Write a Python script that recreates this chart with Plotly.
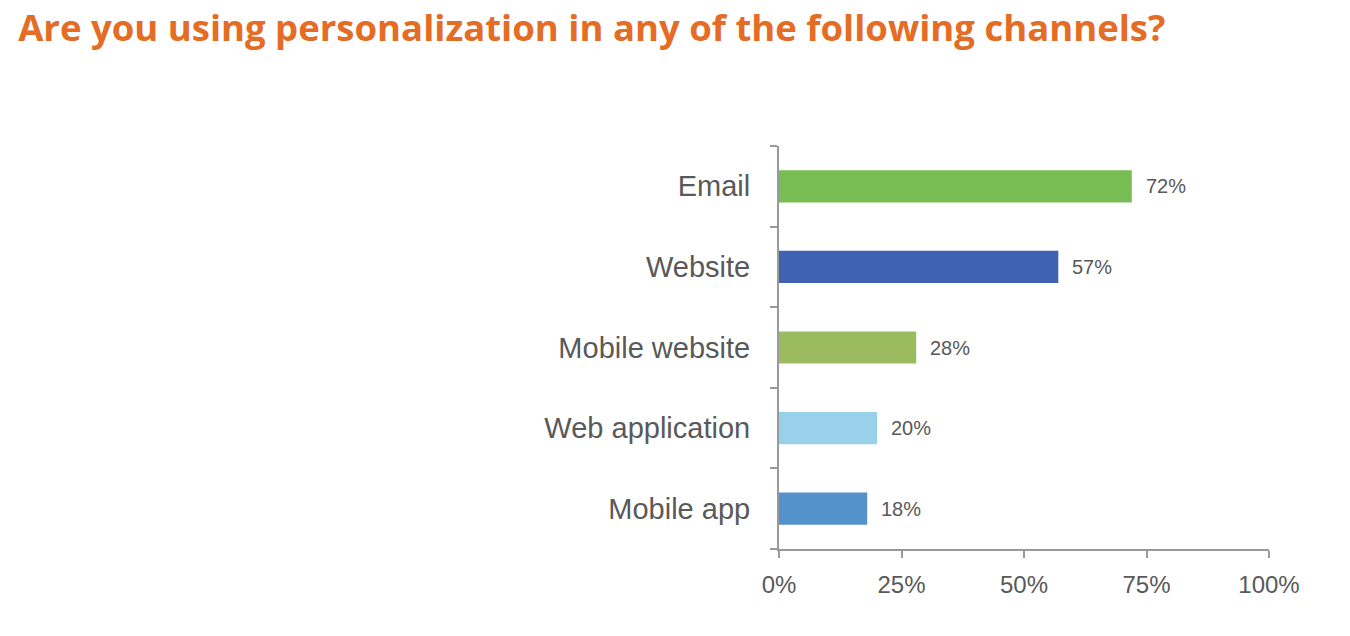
import plotly.graph_objects as go

categories = ["Email", "Website", "Mobile website", "Web application", "Mobile app"]
values = [72, 57, 28, 20, 18]
colors = ["#77BD53", "#3F63B0", "#9BBB61", "#99D1EB", "#5392CA"]
x_ticks = [0, 25, 50, 75, 100]
x_tick_labels = ["0%", "25%", "50%", "75%", "100%"]
title_text = "Are you using personalization in any of the following channels?"

fig = go.Figure(go.Bar(
    y=categories, x=values, orientation="h",
    marker=dict(color=colors, line=dict(width=0)),
    width=0.4,
    cliponaxis=False,
))

for c, v in zip(categories, values):
    fig.add_annotation(x=v, y=c, text=f"{v}%", showarrow=False,
                       xanchor="left", yanchor="middle", xshift=12,
                       font=dict(family="Liberation Sans, Arial", size=20, color="#595959"))

fig.update_layout(
    width=1350, height=636,
    paper_bgcolor="white", plot_bgcolor="white",
    margin=dict(l=771, r=89, t=138, b=95),
    showlegend=False,
    title=dict(text=title_text, x=0.0075, xanchor="left", y=0.968, yanchor="middle",
               font=dict(family="Open Sans", size=36.5, color="#E46C24", weight="bold")),
)
fig.update_xaxes(range=[0, 100], tickvals=x_ticks, ticktext=x_tick_labels,
                 showgrid=False, zeroline=False, showline=True, linecolor="#999999", linewidth=2,
                 ticks="outside", ticklen=7, tickcolor="#999999", tickwidth=2,
                 ticklabelstandoff=6,
                 tickfont=dict(family="Liberation Sans, Arial", size=24, color="#595959"))
fig.update_yaxes(categoryorder="array", categoryarray=categories[::-1],
                 showgrid=False, showline=True, linecolor="#999999", linewidth=2,
                 ticks="outside", tickson="boundaries", ticklen=7, tickcolor="#999999", tickwidth=2,
                 ticklabelstandoff=21,
                 tickfont=dict(family="Liberation Sans, Arial", size=29, color="#595959"))

fig.write_html("out.html")
